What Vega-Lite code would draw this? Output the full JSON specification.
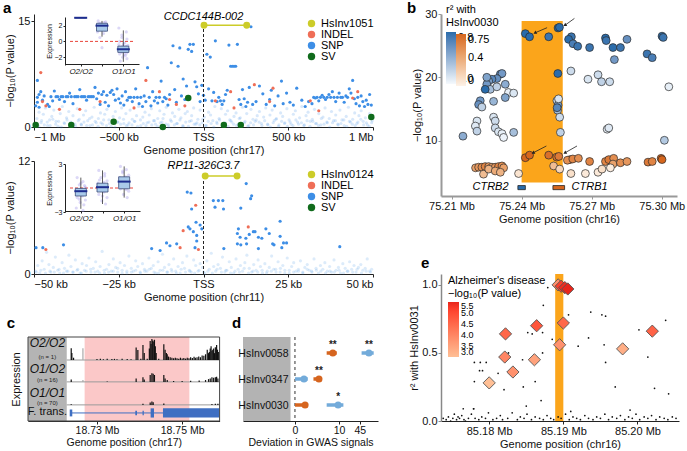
{
"$schema":"https://vega.github.io/schema/vega-lite/v6.json",
"padding":{"left":2,"right":2,"top":1,"bottom":1},
"config":{"font":"Liberation Sans","view":{"stroke":null},
"axis":{"grid":false,"labelFontSize":11,"titleFontSize":11,"titleFontWeight":"normal","domainColor":"#222","tickColor":"#222","labelColor":"#111","titleColor":"#111","tickSize":3,"labelPadding":1,"titlePadding":2},
"legend":{"labelFontSize":11,"titleFontSize":11,"titleFontWeight":"normal","padding":0}},
"datasets":{
"aTopF":[{"x":-0.995,"y":0.3},{"x":-0.983,"y":1.2},{"x":-0.97,"y":2.1},{"x":-0.958,"y":0.6},{"x":-0.945,"y":1.8},{"x":-0.933,"y":2.7},{"x":-0.92,"y":0.2},{"x":-0.908,"y":1.0},{"x":-0.895,"y":1.5},{"x":-0.883,"y":2.4},{"x":-0.87,"y":0.8},{"x":-0.858,"y":0.1},{"x":-0.845,"y":1.9},{"x":-0.833,"y":2.9},{"x":-0.82,"y":0.5},{"x":-0.808,"y":1.3},{"x":-0.795,"y":2.2},{"x":-0.783,"y":0.7},{"x":-0.77,"y":1.6},{"x":-0.758,"y":0.4},{"x":-0.745,"y":2.6},{"x":-0.733,"y":1.1},{"x":-0.72,"y":0.3},{"x":-0.708,"y":1.7},{"x":-0.695,"y":2.3},{"x":-0.683,"y":0.9},{"x":-0.67,"y":0.2},{"x":-0.658,"y":1.4},{"x":-0.645,"y":2.8},{"x":-0.633,"y":0.6},{"x":-0.62,"y":1.2},{"x":-0.608,"y":2.0},{"x":-0.595,"y":0.4},{"x":-0.583,"y":1.8},{"x":-0.57,"y":2.5},{"x":-0.558,"y":1.0},{"x":-0.545,"y":0.1},{"x":-0.533,"y":1.5},{"x":-0.52,"y":2.2},{"x":-0.508,"y":0.7},{"x":-0.495,"y":1.3},{"x":-0.483,"y":2.7},{"x":-0.47,"y":0.5},{"x":-0.458,"y":1.9},{"x":-0.445,"y":0.3},{"x":-0.433,"y":2.4},{"x":-0.42,"y":1.1},{"x":-0.408,"y":0.8},{"x":-0.395,"y":1.6},{"x":-0.383,"y":2.9},{"x":-0.37,"y":0.2},{"x":-0.358,"y":1.4},{"x":-0.345,"y":2.1},{"x":-0.333,"y":0.6},{"x":-0.32,"y":1.7},{"x":-0.308,"y":2.6},{"x":-0.295,"y":0.9},{"x":-0.283,"y":0.4},{"x":-0.27,"y":1.2},{"x":-0.258,"y":2.3},{"x":-0.245,"y":0.7},{"x":-0.233,"y":1.8},{"x":-0.22,"y":2.8},{"x":-0.208,"y":0.3},{"x":-0.195,"y":1.0},{"x":-0.183,"y":2.0},{"x":-0.17,"y":1.5},{"x":-0.158,"y":0.5},{"x":-0.145,"y":2.5},{"x":-0.133,"y":1.3},{"x":-0.12,"y":0.1},{"x":-0.108,"y":1.9},{"x":-0.095,"y":2.2},{"x":-0.083,"y":0.8},{"x":-0.07,"y":1.6},{"x":-0.058,"y":2.7},{"x":-0.045,"y":0.4},{"x":-0.033,"y":1.1},{"x":-0.02,"y":2.4},{"x":-0.008,"y":0.6},{"x":0.005,"y":1.4},{"x":0.017,"y":0.2},{"x":0.03,"y":2.1},{"x":0.042,"y":1.7},{"x":0.055,"y":0.9},{"x":0.067,"y":2.9},{"x":0.08,"y":0.5},{"x":0.092,"y":1.2},{"x":0.105,"y":2.6},{"x":0.117,"y":0.3},{"x":0.13,"y":1.8},{"x":0.142,"y":2.3},{"x":0.155,"y":1.0},{"x":0.167,"y":0.7},{"x":0.18,"y":1.5},{"x":0.192,"y":2.0},{"x":0.205,"y":0.4},{"x":0.217,"y":1.3},{"x":0.23,"y":2.8},{"x":0.242,"y":0.6},{"x":0.255,"y":1.9},{"x":0.267,"y":0.2},{"x":0.28,"y":2.5},{"x":0.292,"y":1.1},{"x":0.305,"y":0.8},{"x":0.317,"y":1.6},{"x":0.33,"y":2.2},{"x":0.342,"y":0.5},{"x":0.355,"y":1.4},{"x":0.367,"y":2.7},{"x":0.38,"y":0.3},{"x":0.392,"y":1.7},{"x":0.405,"y":2.4},{"x":0.417,"y":0.9},{"x":0.43,"y":1.2},{"x":0.442,"y":0.1},{"x":0.455,"y":2.0},{"x":0.467,"y":1.5},{"x":0.48,"y":0.6},{"x":0.492,"y":2.6},{"x":0.505,"y":1.0},{"x":0.517,"y":0.4},{"x":0.53,"y":1.8},{"x":0.542,"y":2.3},{"x":0.555,"y":0.7},{"x":0.567,"y":1.3},{"x":0.58,"y":2.9},{"x":0.592,"y":0.2},{"x":0.605,"y":1.6},{"x":0.617,"y":2.1},{"x":0.63,"y":0.8},{"x":0.642,"y":1.1},{"x":0.655,"y":2.5},{"x":0.667,"y":0.5},{"x":0.68,"y":1.9},{"x":0.692,"y":0.3},{"x":0.705,"y":1.4},{"x":0.717,"y":2.7},{"x":0.73,"y":0.6},{"x":0.742,"y":1.2},{"x":0.755,"y":2.2},{"x":0.767,"y":0.9},{"x":0.78,"y":1.7},{"x":0.792,"y":0.4},{"x":0.805,"y":2.4},{"x":0.817,"y":1.0},{"x":0.83,"y":0.2},{"x":0.842,"y":1.5},{"x":0.855,"y":2.8},{"x":0.867,"y":0.7},{"x":0.88,"y":1.1},{"x":0.892,"y":2.0},{"x":0.905,"y":0.5},{"x":0.917,"y":1.6},{"x":0.93,"y":2.3},{"x":0.942,"y":0.8},{"x":0.955,"y":1.3},{"x":0.967,"y":0.3},{"x":0.98,"y":1.9},{"x":0.992,"y":0.6},
{"x":-0.989,"y":0.5},{"x":-0.972,"y":0.1},{"x":-0.955,"y":0.9},{"x":-0.939,"y":0.3},{"x":-0.922,"y":0.7},{"x":-0.905,"y":0.2},{"x":-0.889,"y":1.1},{"x":-0.872,"y":0.4},{"x":-0.855,"y":0.8},{"x":-0.839,"y":0.0},{"x":-0.822,"y":0.6},{"x":-0.805,"y":1.0},{"x":-0.789,"y":0.3},{"x":-0.772,"y":0.5},{"x":-0.755,"y":0.1},{"x":-0.739,"y":0.9},{"x":-0.722,"y":0.4},{"x":-0.705,"y":0.7},{"x":-0.689,"y":0.2},{"x":-0.672,"y":1.2},{"x":-0.655,"y":0.3},{"x":-0.639,"y":0.8},{"x":-0.622,"y":0.1},{"x":-0.605,"y":0.6},{"x":-0.589,"y":1.0},{"x":-0.572,"y":0.2},{"x":-0.555,"y":0.5},{"x":-0.539,"y":0.9},{"x":-0.522,"y":0.0},{"x":-0.505,"y":0.7},{"x":-0.489,"y":0.4},{"x":-0.472,"y":1.1},{"x":-0.455,"y":0.2},{"x":-0.439,"y":0.6},{"x":-0.422,"y":0.3},{"x":-0.405,"y":0.8},{"x":-0.389,"y":0.1},{"x":-0.372,"y":1.0},{"x":-0.355,"y":0.5},{"x":-0.339,"y":0.2},{"x":-0.322,"y":0.7},{"x":-0.305,"y":0.3},{"x":-0.289,"y":0.9},{"x":-0.272,"y":0.1},{"x":-0.255,"y":0.6},{"x":-0.239,"y":1.2},{"x":-0.222,"y":0.4},{"x":-0.205,"y":0.0},{"x":-0.189,"y":0.8},{"x":-0.172,"y":0.3},{"x":-0.155,"y":0.5},{"x":-0.139,"y":1.0},{"x":-0.122,"y":0.2},{"x":-0.105,"y":0.7},{"x":-0.089,"y":0.1},{"x":-0.072,"y":0.9},{"x":-0.055,"y":0.4},{"x":-0.039,"y":0.6},{"x":-0.022,"y":0.3},{"x":-0.005,"y":1.1},{"x":0.011,"y":0.2},{"x":0.028,"y":0.8},{"x":0.045,"y":0.5},{"x":0.061,"y":0.0},{"x":0.078,"y":0.7},{"x":0.095,"y":1.0},{"x":0.111,"y":0.3},{"x":0.128,"y":0.6},{"x":0.145,"y":0.1},{"x":0.161,"y":0.9},{"x":0.178,"y":0.4},{"x":0.195,"y":0.2},{"x":0.211,"y":1.2},{"x":0.228,"y":0.5},{"x":0.245,"y":0.8},{"x":0.261,"y":0.1},{"x":0.278,"y":0.6},{"x":0.295,"y":0.3},{"x":0.311,"y":1.0},{"x":0.328,"y":0.7},{"x":0.345,"y":0.2},{"x":0.361,"y":0.9},{"x":0.378,"y":0.4},{"x":0.395,"y":0.0},{"x":0.411,"y":0.6},{"x":0.428,"y":1.1},{"x":0.445,"y":0.3},{"x":0.461,"y":0.8},{"x":0.478,"y":0.5},{"x":0.495,"y":0.1},{"x":0.511,"y":0.7},{"x":0.528,"y":0.2},{"x":0.545,"y":1.0},{"x":0.561,"y":0.4},{"x":0.578,"y":0.6},{"x":0.595,"y":0.3},{"x":0.611,"y":0.9},{"x":0.628,"y":0.1},{"x":0.645,"y":0.8},{"x":0.661,"y":0.5},{"x":0.678,"y":0.2},{"x":0.695,"y":1.2},{"x":0.711,"y":0.4},{"x":0.728,"y":0.7},{"x":0.745,"y":0.0},{"x":0.761,"y":0.6},{"x":0.778,"y":0.9},{"x":0.795,"y":0.3},{"x":0.811,"y":0.5},{"x":0.828,"y":1.0},{"x":0.845,"y":0.1},{"x":0.861,"y":0.8},{"x":0.878,"y":0.4},{"x":0.895,"y":0.2},{"x":0.911,"y":0.7},{"x":0.928,"y":1.1},{"x":0.945,"y":0.3},{"x":0.961,"y":0.6},{"x":0.978,"y":0.1},{"x":0.995,"y":0.9}],
"aTopSNP":[{"x":-0.99,"y":3.0},{"x":-0.98,"y":3.5},{"x":-0.98,"y":4.2},{"x":-0.98,"y":6.6},{"x":-0.97,"y":4.6},{"x":-0.97,"y":2.8},{"x":-0.96,"y":5.0},{"x":-0.95,"y":3.8},{"x":-0.94,"y":4.4},{"x":-0.92,"y":3.2},{"x":-0.91,"y":2.9},{"x":-0.9,"y":4.3},{"x":-0.89,"y":3.7},{"x":-0.88,"y":5.1},{"x":-0.87,"y":4.3},{"x":-0.86,"y":4.3},{"x":-0.85,"y":3.9},{"x":-0.84,"y":4.3},{"x":-0.83,"y":4.3},{"x":-0.82,"y":3.6},{"x":-0.81,"y":4.3},{"x":-0.8,"y":4.3},{"x":-0.79,"y":4.8},{"x":-0.78,"y":4.3},{"x":-0.77,"y":3.3},{"x":-0.76,"y":4.3},{"x":-0.75,"y":4.3},{"x":-0.74,"y":4.3},{"x":-0.73,"y":5.3},{"x":-0.72,"y":4.3},{"x":-0.71,"y":4.3},{"x":-0.7,"y":4.3},{"x":-0.69,"y":3.8},{"x":-0.68,"y":4.3},{"x":-0.67,"y":4.3},{"x":-0.66,"y":4.3},{"x":-0.65,"y":4.3},{"x":-0.64,"y":5.6},{"x":-0.63,"y":4.0},{"x":-0.62,"y":4.8},{"x":-0.61,"y":3.2},{"x":-0.6,"y":4.6},{"x":-0.59,"y":5.0},{"x":-0.58,"y":3.5},{"x":-0.57,"y":4.5},{"x":-0.56,"y":3.0},{"x":-0.55,"y":4.9},{"x":-0.54,"y":5.2},{"x":-0.53,"y":4.6},{"x":-0.52,"y":3.8},{"x":-0.51,"y":5.4},{"x":-0.5,"y":4.0},{"x":-0.49,"y":3.4},{"x":-0.48,"y":4.4},{"x":-0.47,"y":3.1},{"x":-0.46,"y":5.0},{"x":-0.45,"y":3.8},{"x":-0.44,"y":4.2},{"x":-0.43,"y":4.2},{"x":-0.42,"y":3.6},{"x":-0.41,"y":4.2},{"x":-0.4,"y":5.4},{"x":-0.39,"y":4.2},{"x":-0.38,"y":3.3},{"x":-0.37,"y":4.2},{"x":-0.36,"y":2.9},{"x":-0.35,"y":4.4},{"x":-0.34,"y":3.6},{"x":-0.33,"y":8.4},{"x":-0.32,"y":4.2},{"x":-0.31,"y":3.0},{"x":-0.3,"y":5.0},{"x":-0.29,"y":3.7},{"x":-0.28,"y":4.2},{"x":-0.27,"y":3.4},{"x":-0.26,"y":4.2},{"x":-0.25,"y":6.5},{"x":-0.24,"y":3.6},{"x":-0.23,"y":4.2},{"x":-0.22,"y":4.0},{"x":-0.21,"y":3.1},{"x":-0.2,"y":4.6},{"x":-0.19,"y":9.1},{"x":-0.18,"y":11.5},{"x":-0.17,"y":5.3},{"x":-0.16,"y":3.5},{"x":-0.15,"y":8.6},{"x":-0.14,"y":11.2},{"x":-0.13,"y":4.4},{"x":-0.12,"y":6.8},{"x":-0.11,"y":3.9},{"x":-0.1,"y":5.8},{"x":-0.09,"y":11.0},{"x":-0.08,"y":11.7},{"x":-0.07,"y":10.7},{"x":-0.06,"y":11.7},{"x":-0.05,"y":6.4},{"x":-0.04,"y":5.7},{"x":-0.03,"y":4.7},{"x":-0.02,"y":3.6},{"x":-0.01,"y":5.9},{"x":0.0,"y":4.5},{"x":0.01,"y":3.8},{"x":0.02,"y":10.3},{"x":0.03,"y":5.4},{"x":0.04,"y":9.9},{"x":0.05,"y":3.7},{"x":0.06,"y":4.9},{"x":0.07,"y":12.2},{"x":0.08,"y":3.6},{"x":0.09,"y":4.2},{"x":0.1,"y":3.7},{"x":0.11,"y":3.2},{"x":0.12,"y":3.7},{"x":0.13,"y":4.6},{"x":0.14,"y":5.2},{"x":0.15,"y":11.6},{"x":0.16,"y":8.6},{"x":0.17,"y":8.6},{"x":0.18,"y":8.6},{"x":0.19,"y":8.6},{"x":0.2,"y":11.7},{"x":0.21,"y":3.9},{"x":0.22,"y":3.2},{"x":0.23,"y":5.3},{"x":0.24,"y":4.0},{"x":0.25,"y":2.9},{"x":0.26,"y":3.5},{"x":0.27,"y":5.6},{"x":0.28,"y":14.2},{"x":0.29,"y":3.2},{"x":0.31,"y":3.6},{"x":0.33,"y":5.8},{"x":0.35,"y":4.7},{"x":0.37,"y":3.2},{"x":0.39,"y":3.9},{"x":0.4,"y":5.2},{"x":0.42,"y":3.0},{"x":0.44,"y":4.4},{"x":0.46,"y":6.5},{"x":0.47,"y":3.3},{"x":0.49,"y":4.8},{"x":0.51,"y":3.5},{"x":0.53,"y":3.1},{"x":0.55,"y":5.5},{"x":0.58,"y":3.8},{"x":0.6,"y":2.9},{"x":0.62,"y":3.6},{"x":0.64,"y":3.3},{"x":0.65,"y":4.2},{"x":0.66,"y":4.1},{"x":0.67,"y":4.2},{"x":0.68,"y":3.7},{"x":0.69,"y":4.2},{"x":0.7,"y":4.5},{"x":0.71,"y":4.2},{"x":0.72,"y":3.9},{"x":0.73,"y":4.2},{"x":0.74,"y":4.6},{"x":0.75,"y":4.2},{"x":0.76,"y":5.0},{"x":0.77,"y":4.2},{"x":0.78,"y":3.6},{"x":0.79,"y":4.2},{"x":0.8,"y":4.8},{"x":0.81,"y":4.2},{"x":0.82,"y":4.2},{"x":0.83,"y":3.5},{"x":0.84,"y":4.4},{"x":0.85,"y":4.2},{"x":0.86,"y":5.4},{"x":0.87,"y":4.8},{"x":0.88,"y":6.6},{"x":0.89,"y":4.0},{"x":0.9,"y":3.3},{"x":0.91,"y":4.2},{"x":0.92,"y":3.0},{"x":0.93,"y":4.4},{"x":0.94,"y":3.6},{"x":0.95,"y":2.9},{"x":0.96,"y":3.8},{"x":0.97,"y":3.2},{"x":0.98,"y":4.6},{"x":0.99,"y":3.1}],
"aTopIndel":[{"x":-0.96,"y":7.7},{"x":-0.95,"y":3.6},{"x":-0.93,"y":3.0},{"x":-0.85,"y":2.5},{"x":-0.73,"y":2.5},{"x":-0.61,"y":3.6},{"x":-0.41,"y":2.7},{"x":-0.34,"y":6.6},{"x":-0.26,"y":5.0},{"x":-0.2,"y":3.9},{"x":-0.16,"y":3.2},{"x":-0.11,"y":3.0},{"x":0.07,"y":3.7},{"x":0.16,"y":5.0},{"x":0.18,"y":2.7},{"x":0.3,"y":6.0},{"x":0.39,"y":3.6},{"x":0.41,"y":5.5},{"x":0.63,"y":3.7},{"x":0.68,"y":2.3},{"x":0.88,"y":4.1},{"x":0.91,"y":5.0}],
"aTopSV":[{"x":-0.99,"y":0.3},{"x":-0.78,"y":0.3},{"x":-0.53,"y":0.75},{"x":-0.24,"y":0.0},{"x":-0.09,"y":4.1},{"x":0.12,"y":0.3},{"x":0.22,"y":0.3},{"x":0.99,"y":1.4}],
"aTopInv":[{"x":0.003,"y":14.4},{"x":0.255,"y":14.4}],
"aTopSeg":[{"x":0.0,"x2":0.255,"y":14.4,"y0":0}],
"aTopBox":[{"k":0,"lo":3.0,"q1":3.0,"med":3.0,"q3":3.0,"hi":3.0},{"k":1,"lo":0.6,"q1":1.3,"med":2.0,"q3":2.3,"hi":2.6},{"k":2,"lo":-2.6,"q1":-1.4,"med":-1.0,"q3":-0.6,"hi":1.4}],
"aTopJit":[{"xj":0.82,"v":2.6},{"xj":1.1,"v":2.4},{"xj":0.93,"v":2.3},{"xj":1.21,"v":2.2},{"xj":0.79,"v":2.1},{"xj":1.03,"v":2.0},{"xj":1.17,"v":2.0},{"xj":0.9,"v":1.9},{"xj":1.07,"v":1.8},{"xj":0.83,"v":1.7},{"xj":1.2,"v":1.6},{"xj":0.97,"v":1.5},{"xj":1.14,"v":1.4},{"xj":0.79,"v":1.2},{"xj":1.07,"v":1.0},{"xj":0.9,"v":0.5},{"xj":1.0,"v":-0.8},{"xj":1.17,"v":2.5},{"xj":0.86,"v":2.3},{"xj":1.1,"v":1.8},{"xj":1.79,"v":1.7},{"xj":2.14,"v":1.2},{"xj":1.93,"v":0.8},{"xj":2.17,"v":0.3},{"xj":1.83,"v":0.0},{"xj":2.07,"v":-0.2},{"xj":1.79,"v":-0.4},{"xj":2.21,"v":-0.5},{"xj":1.97,"v":-0.6},{"xj":2.1,"v":-0.7},{"xj":1.86,"v":-0.8},{"xj":2.17,"v":-0.9},{"xj":1.9,"v":-1.0},{"xj":2.03,"v":-1.0},{"xj":2.21,"v":-1.1},{"xj":1.79,"v":-1.2},{"xj":2.07,"v":-1.3},{"xj":1.93,"v":-1.4},{"xj":2.14,"v":-1.5},{"xj":1.83,"v":-1.6},{"xj":2.1,"v":-1.8},{"xj":1.97,"v":-2.0},{"xj":2.17,"v":-2.2},{"xj":1.86,"v":-2.5},{"xj":2.0,"v":-0.3},{"xj":1.79,"v":-0.9},{"xj":2.21,"v":-1.3},{"xj":2.14,"v":-0.7},{"xj":1.93,"v":0.5},{"xj":2.03,"v":-1.7}],
"aBotF":[{"x":-49.6,"y":0.3},{"x":-48.9,"y":0.9},{"x":-48.3,"y":0.1},{"x":-47.6,"y":1.4},{"x":-47.0,"y":0.5},{"x":-46.3,"y":2.3},{"x":-45.6,"y":1.0},{"x":-45.0,"y":0.2},{"x":-44.3,"y":0.7},{"x":-43.7,"y":1.8},{"x":-43.0,"y":0.4},{"x":-42.4,"y":0.1},{"x":-41.7,"y":1.2},{"x":-41.0,"y":0.6},{"x":-40.4,"y":0.3},{"x":-39.7,"y":2.0},{"x":-39.1,"y":0.8},{"x":-38.4,"y":0.2},{"x":-37.8,"y":1.5},{"x":-37.1,"y":0.5},{"x":-36.4,"y":0.1},{"x":-35.8,"y":1.1},{"x":-35.1,"y":0.4},{"x":-34.5,"y":0.9},{"x":-33.8,"y":1.7},{"x":-33.2,"y":0.2},{"x":-32.5,"y":0.6},{"x":-31.8,"y":1.3},{"x":-31.2,"y":0.3},{"x":-30.5,"y":0.8},{"x":-29.9,"y":2.4},{"x":-29.2,"y":0.1},{"x":-28.6,"y":0.5},{"x":-27.9,"y":1.0},{"x":-27.2,"y":0.3},{"x":-26.6,"y":1.6},{"x":-25.9,"y":0.7},{"x":-25.3,"y":0.2},{"x":-24.6,"y":1.2},{"x":-24.0,"y":0.4},{"x":-23.3,"y":0.9},{"x":-22.6,"y":0.1},{"x":-22.0,"y":1.9},{"x":-21.3,"y":0.6},{"x":-20.7,"y":0.3},{"x":-20.0,"y":1.4},{"x":-19.4,"y":0.8},{"x":-18.7,"y":0.2},{"x":-18.0,"y":1.1},{"x":-17.4,"y":0.5},{"x":-16.7,"y":0.3},{"x":-16.1,"y":1.7},{"x":-15.4,"y":0.6},{"x":-14.8,"y":0.9},{"x":-14.1,"y":0.1},{"x":-13.4,"y":1.3},{"x":-12.8,"y":0.4},{"x":-12.1,"y":2.1},{"x":-11.5,"y":0.7},{"x":-10.8,"y":0.2},{"x":-10.2,"y":1.0},{"x":-9.5,"y":0.5},{"x":-8.8,"y":1.6},{"x":-8.2,"y":0.3},{"x":-7.5,"y":0.8},{"x":-6.9,"y":0.1},{"x":-6.2,"y":1.2},{"x":-5.6,"y":0.6},{"x":-4.9,"y":1.9},{"x":-4.2,"y":0.4},{"x":-3.6,"y":0.2},{"x":-2.9,"y":1.5},{"x":-2.3,"y":0.9},{"x":-1.6,"y":0.3},{"x":-1.0,"y":1.1},{"x":-0.3,"y":0.7},{"x":0.4,"y":0.1},{"x":1.0,"y":1.4},{"x":1.7,"y":0.5},{"x":2.3,"y":2.2},{"x":3.0,"y":0.8},{"x":3.6,"y":0.3},{"x":4.3,"y":1.0},{"x":5.0,"y":0.6},{"x":5.6,"y":1.8},{"x":6.3,"y":0.2},{"x":6.9,"y":0.4},{"x":7.6,"y":1.3},{"x":8.2,"y":0.7},{"x":8.9,"y":0.1},{"x":9.6,"y":1.6},{"x":10.2,"y":0.5},{"x":10.9,"y":0.9},{"x":11.5,"y":0.3},{"x":12.2,"y":1.2},{"x":12.8,"y":2.0},{"x":13.5,"y":0.6},{"x":14.2,"y":0.2},{"x":14.8,"y":1.0},{"x":15.5,"y":0.4},{"x":16.1,"y":1.5},{"x":16.8,"y":0.8},{"x":17.4,"y":0.1},{"x":18.1,"y":1.1},{"x":18.8,"y":0.3},{"x":19.4,"y":0.7},{"x":20.1,"y":1.9},{"x":20.7,"y":0.5},{"x":21.4,"y":0.2},{"x":22.0,"y":1.3},{"x":22.7,"y":0.6},{"x":23.4,"y":0.9},{"x":24.0,"y":0.4},{"x":24.7,"y":1.7},{"x":25.3,"y":0.1},{"x":26.0,"y":0.8},{"x":26.6,"y":1.2},{"x":27.3,"y":0.3},{"x":28.0,"y":0.5},{"x":28.6,"y":1.4},{"x":29.3,"y":0.2},{"x":29.9,"y":0.7},{"x":30.6,"y":1.0},{"x":31.2,"y":0.4},{"x":31.9,"y":0.3},{"x":32.6,"y":1.6},{"x":33.2,"y":0.6},{"x":33.9,"y":0.1},{"x":34.5,"y":0.9},{"x":35.2,"y":0.5},{"x":35.8,"y":1.2},{"x":36.5,"y":0.3},{"x":37.2,"y":0.8},{"x":37.8,"y":0.2},{"x":38.5,"y":1.5},{"x":39.1,"y":0.4},{"x":39.8,"y":0.7},{"x":40.4,"y":0.1},{"x":41.1,"y":1.1},{"x":41.8,"y":0.6},{"x":42.4,"y":0.3},{"x":43.1,"y":1.3},{"x":43.7,"y":0.5},{"x":44.4,"y":0.9},{"x":45.0,"y":0.2},{"x":45.7,"y":0.7},{"x":46.4,"y":1.0},{"x":47.0,"y":0.4},{"x":47.7,"y":0.6},{"x":48.3,"y":1.6},{"x":49.0,"y":0.3},{"x":49.6,"y":0.5},
{"x":-49.3,"y":0.2},{"x":-48.0,"y":0.4},{"x":-46.6,"y":0.1},{"x":-45.3,"y":0.3},{"x":-44.0,"y":0.2},{"x":-42.6,"y":0.5},{"x":-41.3,"y":0.1},{"x":-40.0,"y":0.3},{"x":-38.6,"y":0.2},{"x":-37.3,"y":0.4},{"x":-36.0,"y":0.1},{"x":-34.6,"y":0.3},{"x":-33.3,"y":0.5},{"x":-32.0,"y":0.2},{"x":-30.6,"y":0.1},{"x":-29.3,"y":0.4},{"x":-28.0,"y":0.2},{"x":-26.6,"y":0.3},{"x":-25.3,"y":0.6},{"x":-24.0,"y":0.1},{"x":-22.6,"y":0.3},{"x":-21.3,"y":0.2},{"x":-20.0,"y":0.4},{"x":-18.6,"y":0.1},{"x":-17.3,"y":0.3},{"x":-16.0,"y":0.5},{"x":-14.6,"y":0.2},{"x":-13.3,"y":0.1},{"x":-12.0,"y":0.4},{"x":-10.6,"y":0.2},{"x":-9.3,"y":0.3},{"x":-8.0,"y":0.1},{"x":-6.6,"y":0.5},{"x":-5.3,"y":0.2},{"x":-4.0,"y":0.3},{"x":-2.6,"y":0.1},{"x":-1.3,"y":0.4},{"x":0.0,"y":0.2},{"x":1.3,"y":0.3},{"x":2.6,"y":0.1},{"x":4.0,"y":0.5},{"x":5.3,"y":0.2},{"x":6.6,"y":0.4},{"x":8.0,"y":0.1},{"x":9.3,"y":0.3},{"x":10.6,"y":0.2},{"x":12.0,"y":0.6},{"x":13.3,"y":0.1},{"x":14.6,"y":0.3},{"x":16.0,"y":0.2},{"x":17.3,"y":0.4},{"x":18.6,"y":0.1},{"x":20.0,"y":0.3},{"x":21.3,"y":0.5},{"x":22.6,"y":0.2},{"x":24.0,"y":0.1},{"x":25.3,"y":0.4},{"x":26.6,"y":0.2},{"x":28.0,"y":0.3},{"x":29.3,"y":0.1},{"x":30.6,"y":0.5},{"x":32.0,"y":0.2},{"x":33.3,"y":0.4},{"x":34.6,"y":0.3},{"x":36.0,"y":0.1},{"x":37.3,"y":0.3},{"x":38.6,"y":0.2},{"x":40.0,"y":0.4},{"x":41.3,"y":0.1},{"x":42.6,"y":0.3},{"x":44.0,"y":0.2},{"x":45.3,"y":0.5},{"x":46.6,"y":0.1},{"x":48.0,"y":0.3},{"x":49.3,"y":0.2}],
"aBotSNP":[{"x":-49.4,"y":2.8},{"x":-47.4,"y":2.8},{"x":-41.3,"y":3.1},{"x":-15.3,"y":2.7},{"x":-12.8,"y":2.5},{"x":-10.9,"y":3.3},{"x":-9.9,"y":3.0},{"x":-7.9,"y":3.2},{"x":-4.8,"y":8.7},{"x":-3.7,"y":8.6},{"x":-3.5,"y":6.9},{"x":-4.0,"y":4.8},{"x":-3.0,"y":4.5},{"x":-4.5,"y":5.0},{"x":-2.2,"y":5.5},{"x":-1.0,"y":5.2},{"x":-0.5,"y":4.8},{"x":-2.0,"y":4.1},{"x":-2.0,"y":3.5},{"x":-2.5,"y":2.8},{"x":2.9,"y":7.8},{"x":4.4,"y":7.8},{"x":5.7,"y":7.8},{"x":3.4,"y":7.1},{"x":5.9,"y":6.9},{"x":12.6,"y":9.6},{"x":13.9,"y":8.0},{"x":14.2,"y":8.3},{"x":11.0,"y":7.0},{"x":10.3,"y":4.8},{"x":10.0,"y":4.3},{"x":10.8,"y":3.9},{"x":12.5,"y":3.8},{"x":13.5,"y":4.2},{"x":14.7,"y":4.5},{"x":15.2,"y":4.5},{"x":16.2,"y":3.9},{"x":17.2,"y":3.8},{"x":18.4,"y":4.8},{"x":19.4,"y":4.3},{"x":20.4,"y":3.2},{"x":20.8,"y":3.1},{"x":22.6,"y":5.6},{"x":22.6,"y":4.0},{"x":23.6,"y":3.3},{"x":24.5,"y":3.3},{"x":23.1,"y":2.8},{"x":16.2,"y":2.7},{"x":10.0,"y":3.2},{"x":11.0,"y":3.1},{"x":12.7,"y":3.2},{"x":6.0,"y":2.7},{"x":40.2,"y":2.9}],
"aBotIndel":[{"x":-46.5,"y":2.6},{"x":-6.9,"y":2.8},{"x":-6.0,"y":4.6},{"x":-2.3,"y":7.3},{"x":-1.5,"y":2.6},{"x":13.2,"y":5.0}],
"aBotInv":[{"x":0.5,"y":10.4},{"x":9.9,"y":10.4}],
"aBotSeg":[{"x":0.0,"x2":9.9,"y":10.4,"y0":0}],
"aBotBox":[{"k":0,"lo":-2.6,"q1":-1.0,"med":-0.4,"q3":-0.05,"hi":1.3},{"k":1,"lo":-2.0,"q1":-0.5,"med":0.1,"q3":0.6,"hi":2.2},{"k":2,"lo":-1.2,"q1":-0.1,"med":0.8,"q3":1.4,"hi":2.7}],
"aBotJit":[{"xj":-0.17,"v":1.3},{"xj":0.1,"v":0.8},{"xj":-0.07,"v":0.4},{"xj":0.21,"v":0.1},{"xj":-0.21,"v":-0.2},{"xj":0.03,"v":-0.4},{"xj":0.17,"v":-0.6},{"xj":-0.1,"v":-0.8},{"xj":0.07,"v":-1.0},{"xj":-0.17,"v":-1.2},{"xj":0.21,"v":-1.5},{"xj":-0.03,"v":-1.8},{"xj":0.14,"v":-2.1},{"xj":-0.21,"v":-2.5},{"xj":0.07,"v":-0.3},{"xj":-0.14,"v":-0.7},{"xj":0.17,"v":0.3},{"xj":-0.07,"v":-1.4},{"xj":0.1,"v":-2.8},{"xj":0.0,"v":0.6},{"xj":0.83,"v":2.2},{"xj":1.1,"v":1.8},{"xj":0.93,"v":1.3},{"xj":1.21,"v":0.9},{"xj":0.79,"v":0.6},{"xj":1.03,"v":0.3},{"xj":1.17,"v":0.1},{"xj":0.9,"v":-0.2},{"xj":1.07,"v":-0.5},{"xj":0.83,"v":-0.8},{"xj":1.21,"v":-1.2},{"xj":0.97,"v":-1.6},{"xj":1.14,"v":-2.0},{"xj":0.79,"v":0.4},{"xj":1.07,"v":0.7},{"xj":0.86,"v":1.0},{"xj":1.17,"v":-0.3},{"xj":0.93,"v":0.0},{"xj":1.1,"v":1.5},{"xj":1.0,"v":-1.0},{"xj":1.83,"v":2.7},{"xj":2.1,"v":2.3},{"xj":1.93,"v":1.9},{"xj":2.21,"v":1.6},{"xj":1.79,"v":1.3},{"xj":2.03,"v":1.0},{"xj":2.17,"v":0.8},{"xj":1.9,"v":0.5},{"xj":2.07,"v":0.2},{"xj":1.83,"v":-0.1},{"xj":2.21,"v":-0.4},{"xj":1.97,"v":-0.8},{"xj":2.14,"v":-1.2},{"xj":1.79,"v":1.1},{"xj":2.07,"v":1.4},{"xj":1.86,"v":0.7},{"xj":2.17,"v":0.3},{"xj":1.93,"v":2.1},{"xj":2.1,"v":-0.2},{"xj":2.0,"v":1.2}],
"zline":[{"a":-0.5,"b":2.5,"z":0}],
"bBlue":[{"x":75.2416,"y":26.9,"r":0.78},{"x":75.2434,"y":26.4,"r":0.78},{"x":75.2516,"y":26.4,"r":0.7},{"x":75.2556,"y":27.8,"r":0.78},{"x":75.2562,"y":27.9,"r":0.75},{"x":75.2555,"y":20.6,"r":0.75},{"x":75.2551,"y":16.3,"r":0.2},{"x":75.2556,"y":15.6,"r":0.5},{"x":75.2554,"y":14.8,"r":0.3},{"x":75.2563,"y":13.7,"r":0.15},{"x":75.2566,"y":11.3,"r":0.2},{"x":75.2558,"y":16.6,"r":0.1},{"x":75.2552,"y":15.2,"r":0.6},{"x":75.2613,"y":26.4,"r":0.7},{"x":75.2601,"y":26.0,"r":0.75},{"x":75.262,"y":25.3,"r":0.65},{"x":75.264,"y":24.9,"r":0.7},{"x":75.2691,"y":24.7,"r":0.7},{"x":75.2759,"y":26.2,"r":0.75},{"x":75.2762,"y":25.8,"r":0.7},{"x":75.2791,"y":24.7,"r":0.75},{"x":75.2823,"y":24.7,"r":0.7},{"x":75.2851,"y":26.0,"r":0.55},{"x":75.2797,"y":22.8,"r":0.5},{"x":75.3001,"y":26.5,"r":0.75},{"x":75.3006,"y":26.3,"r":0.7},{"x":75.2937,"y":23.7,"r":0.7},{"x":75.2959,"y":23.1,"r":0.65},{"x":75.303,"y":18.5,"r":0.05},{"x":75.3011,"y":10.05,"r":0.25},{"x":75.2611,"y":21.0,"r":0.15},{"x":75.2684,"y":19.7,"r":0.1},{"x":75.2727,"y":20.4,"r":0.15},{"x":75.2742,"y":19.3,"r":0.2},{"x":75.2777,"y":19.3,"r":0.15},{"x":75.2766,"y":11.8,"r":0.05},{"x":75.2773,"y":12.0,"r":0.08},{"x":75.2309,"y":20.5,"r":0.6},{"x":75.2316,"y":20.6,"r":0.5},{"x":75.2294,"y":19.8,"r":0.55},{"x":75.2273,"y":19.7,"r":0.6},{"x":75.2259,"y":19.4,"r":0.45},{"x":75.2251,"y":18.9,"r":0.5},{"x":75.2266,"y":18.1,"r":0.3},{"x":75.2244,"y":18.1,"r":0.75},{"x":75.2294,"y":18.5,"r":0.2},{"x":75.233,"y":18.9,"r":0.4},{"x":75.2344,"y":17.6,"r":0.05},{"x":75.2366,"y":17.5,"r":0.1},{"x":75.233,"y":16.8,"r":0.45},{"x":75.2223,"y":16.3,"r":0.5},{"x":75.2216,"y":15.7,"r":0.55},{"x":75.223,"y":15.3,"r":0.2},{"x":75.228,"y":13.7,"r":0.1},{"x":75.2287,"y":13.1,"r":0.15},{"x":75.2209,"y":13.1,"r":0.1},{"x":75.2202,"y":12.3,"r":0.08},{"x":75.2209,"y":11.5,"r":0.2},{"x":75.2287,"y":12.0,"r":0.15},{"x":75.2301,"y":11.4,"r":0.1},{"x":75.2316,"y":11.1,"r":0.05},{"x":75.2323,"y":10.5,"r":0.03},{"x":75.2366,"y":11.3,"r":0.3},{"x":75.2149,"y":10.7,"r":0.4},{"x":75.2251,"y":20.0,"r":0.45},{"x":75.228,"y":16.2,"r":0.35}],
"bOrange":[{"x":75.2416,"y":7.3,"r":0.8},{"x":75.2434,"y":7.7,"r":0.8},{"x":75.2516,"y":7.7,"r":0.7},{"x":75.255,"y":7.4,"r":0.7},{"x":75.2559,"y":7.5,"r":0.65},{"x":75.2537,"y":6.0,"r":0.3},{"x":75.2563,"y":5.5,"r":0.15},{"x":75.2387,"y":4.8,"r":0.08},{"x":75.2607,"y":7.0,"r":0.6},{"x":75.2596,"y":6.9,"r":0.55},{"x":75.2619,"y":7.1,"r":0.6},{"x":75.2643,"y":7.2,"r":0.55},{"x":75.2611,"y":4.8,"r":0.1},{"x":75.2673,"y":4.8,"r":0.05},{"x":75.2691,"y":6.7,"r":0.6},{"x":75.2727,"y":5.0,"r":0.05},{"x":75.2744,"y":5.5,"r":0.1},{"x":75.2759,"y":6.7,"r":0.6},{"x":75.2773,"y":7.0,"r":0.65},{"x":75.2794,"y":7.2,"r":0.55},{"x":75.2791,"y":6.3,"r":0.45},{"x":75.2823,"y":6.5,"r":0.55},{"x":75.2851,"y":6.7,"r":0.5},{"x":75.2941,"y":6.6,"r":0.65},{"x":75.2959,"y":6.7,"r":0.6},{"x":75.2997,"y":7.2,"r":0.75},{"x":75.3001,"y":7.0,"r":0.75},{"x":75.278,"y":5.7,"r":0.03},{"x":75.2203,"y":5.7,"r":0.45},{"x":75.2216,"y":5.8,"r":0.5},{"x":75.223,"y":5.8,"r":0.55},{"x":75.2244,"y":5.9,"r":0.6},{"x":75.2259,"y":5.9,"r":0.5},{"x":75.2273,"y":5.8,"r":0.45},{"x":75.2287,"y":5.8,"r":0.5},{"x":75.2301,"y":5.9,"r":0.6},{"x":75.2316,"y":6.0,"r":0.55},{"x":75.2323,"y":5.7,"r":0.45},{"x":75.2237,"y":4.7,"r":0.3},{"x":75.2259,"y":5.5,"r":0.35},{"x":75.2287,"y":5.2,"r":0.4},{"x":75.2309,"y":5.0,"r":0.35}],
"bArrows":[{"x":75.2509,"y":27.84,"x2":75.2459,"y2":27.05},{"x":75.2626,"y":29.3,"x2":75.2587,"y2":28.26},{"x":75.2506,"y":9.15,"x2":75.2451,"y2":8.1},{"x":75.2637,"y":9.15,"x2":75.2587,"y2":8.1}],
"cBars":[{"x":18.72395,"y0":2.65,"y1":3.16},{"x":18.7241,"y0":2.65,"y1":2.95},{"x":18.7245,"y0":2.65,"y1":2.75},{"x":18.73,"y0":2.65,"y1":2.69},{"x":18.7308,"y0":2.65,"y1":2.7},{"x":18.7315,"y0":2.65,"y1":2.68},{"x":18.7324,"y0":2.65,"y1":2.71},{"x":18.7335,"y0":2.65,"y1":2.69},{"x":18.7341,"y0":2.65,"y1":2.7},{"x":18.7347,"y0":2.65,"y1":2.68},{"x":18.7359,"y0":2.65,"y1":2.71},{"x":18.7371,"y0":2.65,"y1":2.69},{"x":18.738,"y0":2.65,"y1":2.68},{"x":18.7392,"y0":2.65,"y1":3.19},{"x":18.7396,"y0":2.65,"y1":3.08},{"x":18.7403,"y0":2.65,"y1":2.7},{"x":18.7408,"y0":2.65,"y1":3.3},{"x":18.7411,"y0":2.65,"y1":2.95},{"x":18.7418,"y0":2.65,"y1":2.71},{"x":18.7423,"y0":2.65,"y1":3.15},{"x":18.7425,"y0":2.65,"y1":3.48},{"x":18.7427,"y0":2.65,"y1":3.35},{"x":18.7429,"y0":2.65,"y1":3.56},{"x":18.7431,"y0":2.65,"y1":3.5},{"x":18.7432,"y0":2.65,"y1":3.45},{"x":18.7435,"y0":2.65,"y1":3.53},{"x":18.7437,"y0":2.65,"y1":3.25},{"x":18.7439,"y0":2.65,"y1":2.95},{"x":18.7445,"y0":2.65,"y1":2.7},{"x":18.7457,"y0":2.65,"y1":3.33},{"x":18.746,"y0":2.65,"y1":3.1},{"x":18.7463,"y0":2.65,"y1":2.95},{"x":18.7465,"y0":2.65,"y1":2.9},{"x":18.7468,"y0":2.65,"y1":2.8},{"x":18.7472,"y0":2.65,"y1":2.77},{"x":18.7476,"y0":2.65,"y1":2.75},{"x":18.748,"y0":2.65,"y1":2.73},{"x":18.7484,"y0":2.65,"y1":2.75},{"x":18.7488,"y0":2.65,"y1":2.73},{"x":18.7492,"y0":2.65,"y1":2.71},{"x":18.7496,"y0":2.65,"y1":2.75},{"x":18.75,"y0":2.65,"y1":2.72},{"x":18.7504,"y0":2.65,"y1":2.74},{"x":18.7508,"y0":2.65,"y1":2.71},{"x":18.7512,"y0":2.65,"y1":2.75},{"x":18.7516,"y0":2.65,"y1":2.73},{"x":18.752,"y0":2.65,"y1":2.77},{"x":18.7524,"y0":2.65,"y1":2.74},{"x":18.7528,"y0":2.65,"y1":2.79},{"x":18.7531,"y0":2.65,"y1":2.75},{"x":18.7535,"y0":2.65,"y1":2.77},{"x":18.7539,"y0":2.65,"y1":2.8},{"x":18.7543,"y0":2.65,"y1":2.77},{"x":18.7547,"y0":2.65,"y1":2.85},{"x":18.7551,"y0":2.65,"y1":2.83},{"x":18.7555,"y0":2.65,"y1":2.9},{"x":18.7559,"y0":2.65,"y1":3.1},{"x":18.7562,"y0":2.65,"y1":2.95},{"x":18.7564,"y0":2.65,"y1":3.0},{"x":18.7566,"y0":2.65,"y1":3.15},{"x":18.7568,"y0":2.65,"y1":3.25},{"x":18.757,"y0":2.65,"y1":3.05},{"x":18.7572,"y0":2.65,"y1":3.1},{"x":18.7574,"y0":2.65,"y1":3.15},{"x":18.7576,"y0":2.65,"y1":2.95},{"x":18.7578,"y0":2.65,"y1":3.2},{"x":18.7581,"y0":2.65,"y1":3.3},{"x":18.7583,"y0":2.65,"y1":3.1},{"x":18.7585,"y0":2.65,"y1":3.0},
{"x":18.72395,"y0":1.7,"y1":1.8},{"x":18.7324,"y0":1.7,"y1":1.72},{"x":18.7392,"y0":1.7,"y1":1.85},{"x":18.7408,"y0":1.7,"y1":1.9},{"x":18.7411,"y0":1.7,"y1":1.8},{"x":18.7425,"y0":1.7,"y1":2.0},{"x":18.7429,"y0":1.7,"y1":2.08},{"x":18.7432,"y0":1.7,"y1":2.05},{"x":18.7435,"y0":1.7,"y1":2.0},{"x":18.7457,"y0":1.7,"y1":2.0},{"x":18.746,"y0":1.7,"y1":1.85},{"x":18.7465,"y0":1.7,"y1":1.78},{"x":18.748,"y0":1.7,"y1":1.74},{"x":18.75,"y0":1.7,"y1":1.74},{"x":18.752,"y0":1.7,"y1":1.75},{"x":18.754,"y0":1.7,"y1":1.76},{"x":18.7555,"y0":1.7,"y1":1.78},{"x":18.7562,"y0":1.7,"y1":1.82},{"x":18.7566,"y0":1.7,"y1":1.85},{"x":18.757,"y0":1.7,"y1":1.9},{"x":18.7574,"y0":1.7,"y1":1.88},{"x":18.7578,"y0":1.7,"y1":1.9},{"x":18.7581,"y0":1.7,"y1":1.92},{"x":18.7584,"y0":1.7,"y1":1.85},
{"x":18.72395,"y0":0.7,"y1":0.73},{"x":18.7408,"y0":0.7,"y1":0.75},{"x":18.7425,"y0":0.7,"y1":0.8},{"x":18.7429,"y0":0.7,"y1":0.85},{"x":18.7432,"y0":0.7,"y1":0.82},{"x":18.7457,"y0":0.7,"y1":0.76},{"x":18.757,"y0":0.7,"y1":0.74},{"x":18.7578,"y0":0.7,"y1":0.75},{"x":18.7584,"y0":0.7,"y1":0.75}],
"cGray":[{"x":18.7267,"y0":2.65,"y1":3.16},{"x":18.7267,"y0":1.7,"y1":1.78}],
"cExons":[{"a":18.7236,"b":18.7242,"lo":0.2,"hi":0.5},{"a":18.739,"b":18.7394,"lo":0.25,"hi":0.45},{"a":18.7407,"b":18.741,"lo":0.25,"hi":0.45},{"a":18.7426,"b":18.7434,"lo":0.15,"hi":0.55},{"a":18.7455,"b":18.7587,"lo":0.15,"hi":0.55}],
"dPts":[{"inv":"HsInv0058","s":"s1","v":8.6,"lo":7.2,"hi":9.5,"star":"**"},{"inv":"HsInv0058","s":"s2","v":47.1,"lo":45.4,"hi":48.2,"star":"**"},{"inv":"HsInv0347","s":"s2","v":2.05,"lo":0.0,"hi":2.9,"star":""},{"inv":"HsInv0347","s":"s1","v":5.45,"lo":4.2,"hi":6.1,"star":"**"},{"inv":"HsInv0030","s":"s1","v":2.3,"lo":0.0,"hi":2.9,"star":""},{"inv":"HsInv0030","s":"s2","v":9.8,"lo":7.2,"hi":11.0,"star":"*"}],
"eDots":[{"x":85.1738,"r":0.02},{"x":85.1742,"r":0.01},{"x":85.1745,"r":0.03},{"x":85.1748,"r":0.0},{"x":85.1751,"r":0.02},{"x":85.1753,"r":0.05},{"x":85.1756,"r":0.01},{"x":85.1758,"r":0.03},{"x":85.176,"r":0.02},{"x":85.1763,"r":0.04},{"x":85.1766,"r":0.01},{"x":85.1768,"r":0.0},{"x":85.1772,"r":0.02},{"x":85.1776,"r":0.05},{"x":85.1779,"r":0.09},{"x":85.1781,"r":0.02},{"x":85.1786,"r":0.01},{"x":85.179,"r":0.03},{"x":85.1795,"r":0.02},{"x":85.1799,"r":0.06},{"x":85.1805,"r":0.01},{"x":85.181,"r":0.02},{"x":85.1815,"r":0.04},{"x":85.1818,"r":0.01},{"x":85.1825,"r":0.02},{"x":85.1831,"r":0.06},{"x":85.1838,"r":0.01},{"x":85.1842,"r":0.03},{"x":85.1847,"r":0.02},{"x":85.1851,"r":0.05},{"x":85.1857,"r":0.01},{"x":85.1862,"r":0.03},{"x":85.1868,"r":0.02},{"x":85.1873,"r":0.01},{"x":85.1878,"r":0.04},{"x":85.1883,"r":0.02},{"x":85.1887,"r":0.01},{"x":85.1893,"r":0.03},{"x":85.1897,"r":0.02},{"x":85.1903,"r":0.05},{"x":85.1908,"r":0.01},{"x":85.1913,"r":0.03},{"x":85.1918,"r":0.02},{"x":85.1923,"r":0.01},{"x":85.1929,"r":0.04},{"x":85.1934,"r":0.02},{"x":85.194,"r":0.01},{"x":85.1945,"r":0.03},{"x":85.195,"r":0.02},{"x":85.1956,"r":0.05},{"x":85.1961,"r":0.01},{"x":85.1966,"r":0.03},{"x":85.1972,"r":0.02},{"x":85.1977,"r":0.04},{"x":85.1983,"r":0.01},{"x":85.1988,"r":0.03},{"x":85.1993,"r":0.02},{"x":85.1998,"r":0.05},{"x":85.2003,"r":0.01},{"x":85.2009,"r":0.03},{"x":85.2014,"r":0.02},{"x":85.2019,"r":0.04},{"x":85.2025,"r":0.01},{"x":85.203,"r":0.03},{"x":85.2036,"r":0.02},{"x":85.2041,"r":0.01},{"x":85.2047,"r":0.03},{"x":85.2052,"r":0.02},{"x":85.1879,"r":0.98},{"x":85.1873,"r":0.85},{"x":85.1937,"r":0.8},{"x":85.1952,"r":0.78},{"x":85.1957,"r":0.77},{"x":85.2038,"r":0.74},{"x":85.2002,"r":0.67},{"x":85.2014,"r":0.47},{"x":85.1957,"r":0.43},{"x":85.1955,"r":0.56},{"x":85.1934,"r":0.61},{"x":85.192,"r":0.55},{"x":85.1907,"r":0.78},{"x":85.1885,"r":0.6},{"x":85.1872,"r":0.5},{"x":85.1852,"r":0.65},{"x":85.1872,"r":0.65},{"x":85.178,"r":0.43},{"x":85.1788,"r":0.43},{"x":85.1796,"r":0.43},{"x":85.1787,"r":0.37},{"x":85.1791,"r":0.37},{"x":85.178,"r":0.29},{"x":85.182,"r":0.23},{"x":85.1846,"r":0.25},{"x":85.1862,"r":0.29},{"x":85.187,"r":0.15},{"x":85.185,"r":0.11},{"x":85.197,"r":0.25},{"x":85.2023,"r":0.24},{"x":85.2042,"r":0.2},{"x":85.199,"r":0.08},{"x":85.191,"r":0.07},{"x":85.1779,"r":0.09},{"x":85.1765,"r":0.09},{"x":85.1858,"r":0.64},{"x":85.1845,"r":0.45},{"x":85.1812,"r":0.35},{"x":85.1826,"r":0.5}],
"eDia":[{"x":85.1893,"r":1.0,"p":3.8},{"x":85.1897,"r":0.99,"p":5.2},{"x":85.1902,"r":0.98,"p":5.4},{"x":85.1906,"r":0.97,"p":5.5},{"x":85.19,"r":0.72,"p":4.5},{"x":85.1895,"r":0.56,"p":3.8},{"x":85.1864,"r":0.7,"p":4.8},{"x":85.1822,"r":0.64,"p":4.5},{"x":85.1821,"r":0.47,"p":4.0},{"x":85.1861,"r":0.45,"p":3.5},{"x":85.1832,"r":0.36,"p":3.8},{"x":85.18,"r":0.28,"p":3.0},{"x":85.198,"r":0.53,"p":3.3},{"x":85.202,"r":0.66,"p":4.6}]
},
"hconcat":[
{"vconcat":[
{"vconcat":[
{"width":339,"height":113,
"layer":[
{"layer":[
{"data":{"name":"aTopF"},"mark":{"type":"circle","size":10,"opacity":0.2,"color":"#3d8ee6"},
"encoding":{"x":{"field":"x","type":"quantitative","scale":{"domain":[-1,1],"nice":false},"axis":{"values":[-1,-0.5,0,0.5,1],"labelExpr":"datum.value==0?'TSS':datum.value==-1?'−1 Mb':datum.value==1?'1 Mb':datum.value<0?'−500 kb':'500 kb'","title":"Genome position (chr17)"}},
"y":{"field":"y","type":"quantitative","scale":{"domain":[0,16],"nice":false},"axis":{"values":[0,5,10,15],"title":"−log₁₀(P value)"}}}},
{"data":{"name":"aTopSNP"},"mark":{"type":"circle","size":10,"opacity":1},"encoding":{"x":{"field":"x","type":"quantitative"},"y":{"field":"y","type":"quantitative"},
"color":{"datum":"SNP","type":"nominal","scale":{"domain":["HsInv1051","INDEL","SNP","SV"],"range":["#cccc29","#ef6e57","#3d8ee6","#106b1c"]},"legend":{"orient":"none","legendX":272,"legendY":4,"title":null,"symbolType":"circle","symbolSize":55,"labelFontSize":11,"rowPadding":-3,"symbolStrokeWidth":0}}}},
{"data":{"name":"aTopIndel"},"mark":{"type":"circle","size":10,"opacity":1},"encoding":{"x":{"field":"x","type":"quantitative"},"y":{"field":"y","type":"quantitative"},"color":{"datum":"INDEL","type":"nominal"}}},
{"data":{"name":"aTopSV"},"mark":{"type":"circle","size":42,"opacity":1},"encoding":{"x":{"field":"x","type":"quantitative"},"y":{"field":"y","type":"quantitative"},"color":{"datum":"SV","type":"nominal"}}},
{"data":{"name":"aTopSeg"},"mark":{"type":"rule","color":"#cccc29","strokeWidth":1.5},"encoding":{"x":{"field":"x","type":"quantitative"},"x2":{"field":"x2"},"y":{"field":"y","type":"quantitative"}}},
{"data":{"name":"aTopSeg"},"mark":{"type":"rule","color":"#222","strokeDash":[3,2],"strokeWidth":1},"encoding":{"x":{"field":"x","type":"quantitative"},"y":{"field":"y0","type":"quantitative"},"y2":{"field":"y"}}},
{"data":{"name":"aTopInv"},"mark":{"type":"circle","size":48,"opacity":1},"encoding":{"x":{"field":"x","type":"quantitative"},"y":{"field":"y","type":"quantitative"},"color":{"datum":"HsInv1051","type":"nominal"}}},
{"data":{"values":[{"x":0,"y":15.55,"t":"CCDC144B-002"}]},"mark":{"type":"text","fontStyle":"italic","fontSize":11,"baseline":"middle"},"encoding":{"x":{"field":"x","type":"quantitative"},"y":{"field":"y","type":"quantitative"},"text":{"field":"t","type":"nominal"}}},
{"data":{"values":[{"x":-1.183,"y":16.8,"t":"a"}]},"mark":{"type":"text","fontSize":15,"fontWeight":"bold","baseline":"middle","align":"left","color":"#000"},"encoding":{"x":{"field":"x","type":"quantitative"},"y":{"field":"y","type":"quantitative"},"text":{"field":"t","type":"nominal"}}}
]},
{"layer":[
{"data":{"name":"zline"},"mark":{"type":"rule","color":"#e8453b","strokeDash":[3,2],"strokeWidth":1},
"encoding":{"x":{"field":"a","type":"quantitative","scale":{"domain":[-0.5,2.5],"range":[31,105],"nice":false,"zero":false},"axis":{"orient":"bottom","offset":-63,"values":[0,1,2],"labelExpr":"datum.value==0?'O2/O2':datum.value==1?'O1/O2':'O1/O1'","title":null,"labelFontSize":8,"labelFontStyle":"italic","tickSize":2,"labelPadding":1}},"x2":{"field":"b"},
"y":{"field":"z","type":"quantitative","scale":{"domain":[-3,3.1],"range":[51,3],"nice":false,"zero":false},"axis":{"orient":"left","offset":-31,"values":[-2,-1,0,1,2,3],"title":"Expression","titleFontSize":7,"labelFontSize":7,"tickSize":2,"titlePadding":2,"labelPadding":1}}}},
{"data":{"name":"aTopJit"},"mark":{"type":"circle","size":10,"color":"#9b8ee8","opacity":0.35},"encoding":{"x":{"field":"xj","type":"quantitative"},"y":{"field":"v","type":"quantitative"}}},
{"data":{"name":"aTopBox"},"mark":{"type":"rule","color":"#333","strokeWidth":0.8},"encoding":{"x":{"field":"k","type":"quantitative"},"y":{"field":"lo","type":"quantitative"},"y2":{"field":"hi"}}},
{"data":{"name":"aTopBox"},"mark":{"type":"bar","size":11,"fill":"#a9caea","stroke":"#3c4c78","strokeWidth":0.8,"orient":"vertical"},"encoding":{"x":{"field":"k","type":"quantitative"},"y":{"field":"q1","type":"quantitative"},"y2":{"field":"q3"}}},
{"data":{"name":"aTopBox"},"mark":{"type":"tick","color":"#1d2d8f","thickness":2,"size":13,"orient":"horizontal","opacity":1},"encoding":{"x":{"field":"k","type":"quantitative"},"y":{"field":"med","type":"quantitative"}}}
]}
],
"resolve":{"scale":{"x":"independent","y":"independent"}}},

{"width":339,"height":113,
"layer":[
{"layer":[
{"data":{"name":"aBotF"},"mark":{"type":"circle","size":10,"opacity":0.18,"color":"#3d8ee6"},
"encoding":{"x":{"field":"x","type":"quantitative","scale":{"domain":[-50,50],"nice":false},"axis":{"values":[-50,-25,0,25,50],"labelExpr":"datum.value==0?'TSS':((datum.value<0?'−'+abs(datum.value):datum.value)+' kb')","title":"Genome position (chr11)"}},
"y":{"field":"y","type":"quantitative","scale":{"domain":[0,12],"nice":false},"axis":{"values":[0,4,8,12],"title":"−log₁₀(P value)"}}}},
{"data":{"name":"aBotSNP"},"mark":{"type":"circle","size":10,"opacity":1},"encoding":{"x":{"field":"x","type":"quantitative"},"y":{"field":"y","type":"quantitative"},
"color":{"datum":"SNP","type":"nominal","scale":{"domain":["HsInv0124","INDEL","SNP","SV"],"range":["#cccc29","#ef6e57","#3d8ee6","#106b1c"]},"legend":{"orient":"none","legendX":272,"legendY":8,"title":null,"symbolType":"circle","symbolSize":55,"labelFontSize":11,"rowPadding":-3,"symbolStrokeWidth":0}}}},
{"data":{"name":"aBotIndel"},"mark":{"type":"circle","size":10,"opacity":1},"encoding":{"x":{"field":"x","type":"quantitative"},"y":{"field":"y","type":"quantitative"},"color":{"datum":"INDEL","type":"nominal"}}},
{"data":{"name":"aBotSeg"},"mark":{"type":"rule","color":"#cccc29","strokeWidth":1.5},"encoding":{"x":{"field":"x","type":"quantitative"},"x2":{"field":"x2"},"y":{"field":"y","type":"quantitative"}}},
{"data":{"name":"aBotSeg"},"mark":{"type":"rule","color":"#222","strokeDash":[3,2],"strokeWidth":1},"encoding":{"x":{"field":"x","type":"quantitative"},"y":{"field":"y0","type":"quantitative"},"y2":{"field":"y"}}},
{"data":{"name":"aBotInv"},"mark":{"type":"circle","size":48,"opacity":1},"encoding":{"x":{"field":"x","type":"quantitative"},"y":{"field":"y","type":"quantitative"},"color":{"datum":"HsInv0124","type":"nominal"}}},
{"data":{"values":[{"x":0,"y":11.5,"t":"RP11-326C3.7"}]},"mark":{"type":"text","fontStyle":"italic","fontSize":11,"baseline":"middle"},"encoding":{"x":{"field":"x","type":"quantitative"},"y":{"field":"y","type":"quantitative"},"text":{"field":"t","type":"nominal"}}}
]},
{"layer":[
{"data":{"name":"zline"},"mark":{"type":"rule","color":"#e8453b","strokeDash":[3,2],"strokeWidth":1},
"encoding":{"x":{"field":"a","type":"quantitative","scale":{"domain":[-0.5,2.5],"range":[31,106],"nice":false,"zero":false},"axis":{"orient":"bottom","offset":-63,"values":[0,1,2],"labelExpr":"datum.value==0?'O2/O2':datum.value==1?'O1/O2':'O1/O1'","title":null,"labelFontSize":8,"labelFontStyle":"italic","tickSize":2,"labelPadding":1}},"x2":{"field":"b"},
"y":{"field":"z","type":"quantitative","scale":{"domain":[-3,3],"range":[51,3],"nice":false,"zero":false},"axis":{"orient":"left","offset":-31,"values":[-3,-2,-1,0,1,2,3],"title":"Expression","titleFontSize":7,"labelFontSize":7,"tickSize":2,"titlePadding":2,"labelPadding":1}}}},
{"data":{"name":"aBotJit"},"mark":{"type":"circle","size":10,"color":"#9b8ee8","opacity":0.35},"encoding":{"x":{"field":"xj","type":"quantitative"},"y":{"field":"v","type":"quantitative"}}},
{"data":{"name":"aBotBox"},"mark":{"type":"rule","color":"#333","strokeWidth":0.8},"encoding":{"x":{"field":"k","type":"quantitative"},"y":{"field":"lo","type":"quantitative"},"y2":{"field":"hi"}}},
{"data":{"name":"aBotBox"},"mark":{"type":"bar","size":11,"fill":"#a9caea","stroke":"#3c4c78","strokeWidth":0.8,"orient":"vertical"},"encoding":{"x":{"field":"k","type":"quantitative"},"y":{"field":"q1","type":"quantitative"},"y2":{"field":"q3"}}},
{"data":{"name":"aBotBox"},"mark":{"type":"tick","color":"#1d2d8f","thickness":2,"size":13,"orient":"horizontal","opacity":1},"encoding":{"x":{"field":"k","type":"quantitative"},"y":{"field":"med","type":"quantitative"}}}
]}
],
"resolve":{"scale":{"x":"independent","y":"independent"}}}
],"spacing":0,"resolve":{"scale":{"color":"independent"}}},

{"width":350,"height":84,
"layer":[
{"layer":[
{"data":{"values":[{"a":18.7138,"b":18.7229}]},"mark":{"type":"rect","color":"#b4b4b4"},"encoding":{"x":{"field":"a","type":"quantitative","scale":{"domain":[18.7138,18.7588],"range":[-6,185.6],"nice":false,"zero":false},"axis":{"orient":"bottom","values":[18.73,18.75],"labelExpr":"format(datum.value,'.2f')+' Mb'","title":"Genome position (chr17)","labelFontSize":10.5,"titleFontSize":10.5}},"x2":{"field":"b"}}},
{"data":{"values":[{"a":18.7271,"b":18.7517}]},"mark":{"type":"rect","color":"#fbc8c8"},"encoding":{"x":{"field":"a","type":"quantitative"},"x2":{"field":"b"}}},
{"data":{"values":[{"y":2.65,"a":18.7229,"b":18.7588},{"y":1.7,"a":18.7229,"b":18.7588},{"y":0.7,"a":18.7229,"b":18.7588}]},"mark":{"type":"rule","color":"#9a9a9a","strokeWidth":1},"encoding":{"x":{"field":"a","type":"quantitative"},"x2":{"field":"b"},"y":{"field":"y","type":"quantitative","scale":{"domain":[0,3.65],"nice":false,"zero":false},"axis":{"orient":"left","title":"Expression","labels":false,"ticks":false,"domain":false,"titlePadding":13,"titleFontSize":11}}}},
{"data":{"name":"cGray"},"mark":{"type":"rule","color":"#aaaaaa","strokeWidth":1.2},"encoding":{"x":{"field":"x","type":"quantitative"},"y":{"field":"y0","type":"quantitative"},"y2":{"field":"y1"}}},
{"data":{"name":"cBars"},"mark":{"type":"rule","color":"#111","strokeWidth":1.2},"encoding":{"x":{"field":"x","type":"quantitative"},"y":{"field":"y0","type":"quantitative"},"y2":{"field":"y1"}}},
{"data":{"values":[{"a":18.7237,"b":18.7586,"y":0.35}]},"mark":{"type":"rule","color":"#3f6fc2","strokeWidth":1},"encoding":{"x":{"field":"a","type":"quantitative"},"x2":{"field":"b"},"y":{"field":"y","type":"quantitative"}}},
{"data":{"name":"cExons"},"mark":{"type":"rect","color":"#3f6fc2"},"encoding":{"x":{"field":"a","type":"quantitative"},"x2":{"field":"b"},"y":{"field":"lo","type":"quantitative"},"y2":{"field":"hi"}}},
{"data":{"values":[{"x":18.71835,"y":3.39,"t":"O2/O2"},{"x":18.71835,"y":2.27,"t":"O1/O2"},{"x":18.71835,"y":1.22,"t":"O1/O1"}]},"mark":{"type":"text","fontStyle":"italic","fontSize":12,"baseline":"middle","color":"#111"},"encoding":{"x":{"field":"x","type":"quantitative"},"y":{"field":"y","type":"quantitative"},"text":{"field":"t","type":"nominal"}}},
{"data":{"values":[{"x":18.71835,"y":2.8,"t":"(n = 1)"},{"x":18.71835,"y":1.8,"t":"(n = 16)"},{"x":18.71835,"y":0.8,"t":"(n = 70)"}]},"mark":{"type":"text","fontSize":6,"baseline":"middle","color":"#222"},"encoding":{"x":{"field":"x","type":"quantitative"},"y":{"field":"y","type":"quantitative"},"text":{"field":"t","type":"nominal"}}},
{"data":{"values":[{"x":18.71835,"y":0.37,"t":"F. trans."}]},"mark":{"type":"text","fontSize":11,"baseline":"middle","color":"#111"},"encoding":{"x":{"field":"x","type":"quantitative"},"y":{"field":"y","type":"quantitative"},"text":{"field":"t","type":"nominal"}}},
{"data":{"values":[{"a":18.7138,"b":18.7588}]},"mark":{"type":"rect","filled":false,"stroke":"#444","strokeWidth":1},"encoding":{"x":{"field":"a","type":"quantitative"},"x2":{"field":"b"}}},
{"data":{"values":[{"x":18.7088,"y":4.26,"t":"c"},{"x":18.7617,"y":4.26,"t":"d"}]},"mark":{"type":"text","fontSize":15,"fontWeight":"bold","baseline":"middle","align":"left","color":"#000"},"encoding":{"x":{"field":"x","type":"quantitative"},"y":{"field":"y","type":"quantitative"},"text":{"field":"t","type":"nominal"}}}
]},
{"layer":[
{"data":{"values":[{"a":-11.8,"b":-1.0}]},"mark":{"type":"rect","color":"#b3b3b3"},"encoding":{"x":{"field":"a","type":"quantitative","scale":{"domain":[-11.8,12.5,43.5,49.2],"range":[209,316,319.4,344],"nice":false,"zero":false},"axis":{"orient":"bottom","values":[0,10,45],"title":"Deviation in GWAS signals","labelFontSize":10.5,"titleFontSize":10.5}},"x2":{"field":"b"}}},
{"data":{"values":[{"z":0}]},"mark":{"type":"rule","color":"#333","strokeDash":[3,3],"strokeWidth":1},"encoding":{"x":{"field":"z","type":"quantitative"}}},
{"data":{"name":"dPts"},"mark":{"type":"rule","strokeWidth":3.5},"encoding":{"x":{"field":"lo","type":"quantitative"},"x2":{"field":"hi"},"y":{"field":"inv","type":"nominal","scale":{"type":"point","domain":["HsInv0058","HsInv0347","HsInv0030"],"range":[16,68],"padding":0},"axis":{"orient":"left","offset":-256,"domain":false,"ticks":false,"labelPadding":2,"title":null,"labelFontSize":10.5,"zindex":2}},"color":{"field":"s","type":"nominal","scale":{"domain":["s1","s2"],"range":["#d6651f","#73abda"]},"legend":null}}},
{"data":{"name":"dPts"},"mark":{"type":"circle","size":50,"opacity":1},"encoding":{"x":{"field":"v","type":"quantitative"},"y":{"field":"inv","type":"nominal"},"color":{"field":"s","type":"nominal","legend":null}}},
{"data":{"name":"dPts"},"mark":{"type":"text","dy":-8,"fontSize":10,"fontWeight":"bold","color":"#222"},"encoding":{"x":{"field":"v","type":"quantitative"},"y":{"field":"inv","type":"nominal"},"text":{"field":"star","type":"nominal"}}}
]}
],
"resolve":{"scale":{"x":"independent","y":"independent","color":"independent"}}}
],"spacing":13,"resolve":{"scale":{"color":"independent"}}},

{"vconcat":[
{"width":236,"height":182,
"layer":[
{"data":{"values":[{"a":75.24,"b":75.2576,"lo":3.4,"hi":28.9}]},"mark":{"type":"rect","color":"#fba51b"},"encoding":{"x":{"field":"a","type":"quantitative","scale":{"domain":[75.2055,75.3065],"nice":false,"zero":false},"axis":{"values":[75.21,75.24,75.27,75.3],"labelExpr":"format(datum.value,'.2f')+' Mb'","title":"Genome position (chr16)","domainColor":"#999","domainWidth":2,"tickColor":"#999"}},"x2":{"field":"b"},"y":{"field":"lo","type":"quantitative","scale":{"domain":[1.25,30],"nice":false,"zero":false},"axis":{"values":[10,20,30],"title":"−log₁₀(P value)","domainColor":"#999","domainWidth":2,"tickColor":"#999"}},"y2":{"field":"hi"}}},
{"data":{"name":"bBlue"},"mark":{"type":"point","filled":true,"size":62,"stroke":"#2a2a2a","strokeWidth":0.7,"opacity":1},"encoding":{"x":{"field":"x","type":"quantitative"},"y":{"field":"y","type":"quantitative"},"color":{"field":"r","type":"quantitative","scale":{"domain":[0,0.75],"range":["#f5f9fd","#2a6cab"],"clamp":true},"legend":{"orient":"none","legendX":5,"legendY":-10,"title":["r² with","HsInv0030"],"titleFontSize":11,"titlePadding":4,"gradientLength":52,"gradientThickness":10,"labels":false,"direction":"vertical","gradientStrokeWidth":0}}}},
{"data":{"name":"bOrange"},"mark":{"type":"point","filled":true,"size":62,"stroke":"#2a2a2a","strokeWidth":0.7,"opacity":1},"encoding":{"x":{"field":"x","type":"quantitative"},"y":{"field":"y","type":"quantitative"},"color":{"field":"r","type":"quantitative","scale":{"domain":[0,0.75],"range":["#fdf2e8","#d6661d"],"clamp":true},"legend":{"orient":"none","legendX":15,"legendY":20,"title":null,"gradientLength":52,"gradientThickness":10,"values":[0,0.4,0.75],"format":".2~f","labelOverlap":false,"labelFontSize":11,"direction":"vertical","gradientStrokeWidth":0}}}},
{"data":{"values":[{"a":75.2384,"b":75.2416,"lo":2.25,"hi":2.9}]},"mark":{"type":"rect","color":"#2a6cab","stroke":"#222","strokeWidth":0.8},"encoding":{"x":{"field":"a","type":"quantitative"},"x2":{"field":"b"},"y":{"field":"lo","type":"quantitative"},"y2":{"field":"hi"}}},
{"data":{"values":[{"a":75.2534,"b":75.2584,"lo":2.25,"hi":2.9}]},"mark":{"type":"rect","color":"#d6661d","stroke":"#222","strokeWidth":0.8},"encoding":{"x":{"field":"a","type":"quantitative"},"x2":{"field":"b"},"y":{"field":"lo","type":"quantitative"},"y2":{"field":"hi"}}},
{"data":{"values":[{"x":75.2344,"y":2.6,"t":"CTRB2"}]},"mark":{"type":"text","fontStyle":"italic","fontSize":11,"align":"right","baseline":"middle"},"encoding":{"x":{"field":"x","type":"quantitative"},"y":{"field":"y","type":"quantitative"},"text":{"field":"t","type":"nominal"}}},
{"data":{"values":[{"x":75.2614,"y":2.6,"t":"CTRB1"}]},"mark":{"type":"text","fontStyle":"italic","fontSize":11,"align":"left","baseline":"middle"},"encoding":{"x":{"field":"x","type":"quantitative"},"y":{"field":"y","type":"quantitative"},"text":{"field":"t","type":"nominal"}}},
{"data":{"name":"bArrows"},"mark":{"type":"rule","color":"#222","strokeWidth":0.8},"encoding":{"x":{"field":"x","type":"quantitative"},"x2":{"field":"x2"},"y":{"field":"y","type":"quantitative"},"y2":{"field":"y2"}}},
{"data":{"name":"bArrows"},"mark":{"type":"point","shape":"triangle","filled":true,"size":14,"angle":240,"color":"#222","opacity":1},"encoding":{"x":{"field":"x2","type":"quantitative"},"y":{"field":"y2","type":"quantitative"}}},
{"data":{"values":[{"x":75.1909,"y":30.87,"t":"b"}]},"mark":{"type":"text","fontSize":15,"fontWeight":"bold","baseline":"middle","align":"left","color":"#000"},"encoding":{"x":{"field":"x","type":"quantitative"},"y":{"field":"y","type":"quantitative"},"text":{"field":"t","type":"nominal"}}}
],
"resolve":{"scale":{"color":"independent"}}},

{"width":238,"height":147,
"layer":[
{"data":{"values":[{"a":85.1889,"b":85.19}]},"mark":{"type":"rect","color":"#fba51b"},"encoding":{"x":{"field":"a","type":"quantitative","scale":{"domain":[85.1735,85.2056],"nice":false,"zero":false},"axis":{"values":[85.18,85.19,85.2],"labelExpr":"format(datum.value,'.2f')+' Mb'","title":"Genome position (chr16)"}},"x2":{"field":"b"}}},
{"data":{"name":"eDots"},"mark":{"type":"circle","size":3,"color":"#111","opacity":1},"encoding":{"x":{"field":"x","type":"quantitative"},"y":{"field":"r","type":"quantitative","scale":{"domain":[0,1.08],"nice":false},"axis":{"values":[0,0.5,1],"format":".1f","title":"r² with HsInv0031","domainColor":"#888","domainWidth":1.5,"tickColor":"#888"}}}},
{"data":{"name":"eDia"},"mark":{"type":"point","shape":"diamond","filled":true,"size":150,"stroke":"#555","strokeWidth":0.9,"opacity":1},"encoding":{"x":{"field":"x","type":"quantitative"},"y":{"field":"r","type":"quantitative"},"color":{"field":"p","type":"quantitative","scale":{"domain":[3,5.5],"range":["#ffffff","#e8261c"]},"legend":{"orient":"none","legendX":7,"legendY":1,"title":["Alzheimer's disease","−log₁₀(P value)"],"titleFontSize":11,"titlePadding":3,"gradientLength":55,"gradientThickness":11,"values":[3,3.5,4,4.5,5,5.5],"format":".1f","labelOverlap":false,"labelFontSize":9,"direction":"vertical","gradientStrokeWidth":0}}}},
{"data":{"values":[{"x":85.1708,"y":1.161,"t":"e"}]},"mark":{"type":"text","fontSize":15,"fontWeight":"bold","baseline":"middle","align":"left","color":"#000"},"encoding":{"x":{"field":"x","type":"quantitative"},"y":{"field":"y","type":"quantitative"},"text":{"field":"t","type":"nominal"}}}
]}
],"spacing":31,"resolve":{"scale":{"color":"independent"}}}
],
"spacing":22,
"resolve":{"scale":{"color":"independent"}}
}
